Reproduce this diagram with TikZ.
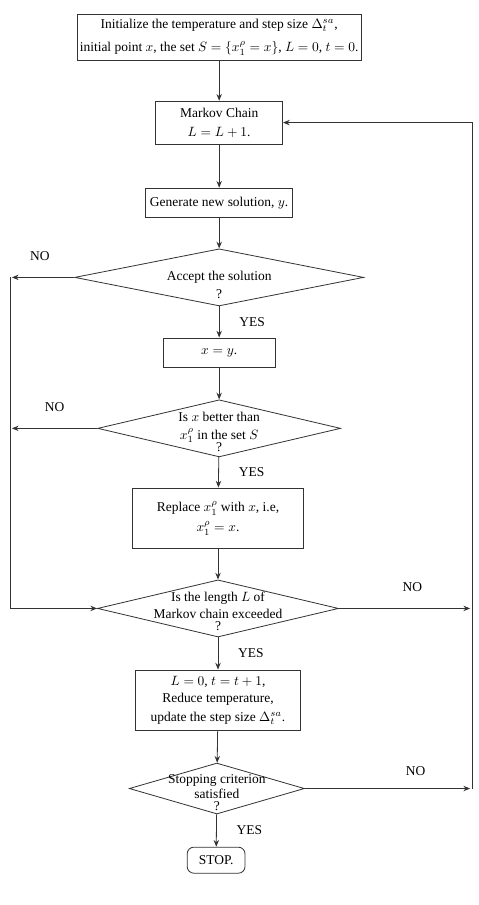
\documentclass[tikz,border=0pt]{standalone}
\usepackage{fontspec}
\setmainfont{Liberation Serif}
\usetikzlibrary{arrows.meta, positioning, shapes.geometric}

\begin{document}
\begin{tikzpicture}[
        stepbox/.style={rectangle, draw=black!80, line width=0.6pt, align=center,
            inner sep=2pt},
        decision/.style={diamond, draw=black!80, line width=0.6pt, inner sep=0pt,
            minimum height=1.49cm},
        qtext/.style={align=center, inner sep=0pt},
        stopbox/.style={rectangle, draw=black!80, line width=0.6pt,
            rounded corners=5pt, minimum width=1.51cm, minimum height=0.68cm},
        flow/.style={draw=black!80, line width=0.6pt,
            -{Stealth[length=5pt, width=4pt]}},
    ]
        \useasboundingbox (0,0) rectangle (12.48,-23.62);

        % Boxes
        \node[stepbox, minimum width=7.39cm, minimum height=1.2cm] (init) at (5.72,-0.97)
            {Initialize the temperature and step size $\Delta_t^{sa}$,\\[5pt]
             initial point $x$, the set $S=\{x_1^\rho=x\}$, $L=0$, $t=0$.};
        \node[stepbox, minimum width=3.31cm, minimum height=1.12cm] (markov) at (5.72,-3.2)
            {Markov Chain\\[2pt] $L=L+1$.};
        \node[stepbox, minimum width=3.84cm, minimum height=0.76cm] (gen) at (5.72,-5.29)
            {Generate new solution, $y$.};
        \node[stepbox, minimum width=2.92cm, minimum height=0.76cm] (xy) at (5.72,-9.2)
            {$x=y$.};
        \node[stepbox, minimum width=4.46cm, minimum height=1.59cm] (repl) at (5.69,-13.53)
            {Replace $x_1^\rho$ with $x$, i.e,\\[3pt] $x_1^\rho=x$.};
        \node[stepbox, minimum width=4.31cm, minimum height=1.59cm] (reset) at (5.69,-18.28)
            {$L=0$, $t=t+1$,\\[1pt] Reduce temperature,\\[2pt] update the step size $\Delta_t^{sa}$.};
        \node[stopbox] (stop) at (5.64,-22.45) {STOP.};

        % Decisions
        \node[decision, minimum width=7.54cm] (d1) at (5.72,-7.24) {};
        \node[decision, minimum width=6.34cm] (d2) at (5.72,-11.18) {};
        \node[decision, minimum width=6.29cm] (d3) at (5.69,-15.88) {};
        \node[decision, minimum width=4.57cm, minimum height=1.33cm] (d4) at (5.66,-20.58) {};

        \node[qtext, yshift=-0.2cm] (d1t) at (d1) {Accept the solution\\[1pt] ?};
        \node[qtext, yshift=-0.09cm] (d2t) at (d2)
            {Is $x$ better than\\[1pt] $x_1^\rho$ in the set $S$\\[-3pt] ?};
        \node[qtext, yshift=-0.08cm] (d3t) at (d3)
            {Is the length $L$ of\\[1pt] Markov chain exceeded\\[-3pt] ?};
        \node[qtext, yshift=-0.1cm] (d4t) at (d4)
            {Stopping criterion\\[-1pt] satisfied\\[-3pt] ?};

        % Loop corners
        \coordinate (lft1) at (0.31,-7.24);
        \coordinate (lft2) at (0.31,-11.18);
        \coordinate (lft3) at (0.26,-15.88);
        \coordinate (rgt3) at (12.27,-15.88);
        \coordinate (rgt4) at (12.27,-20.58);
        \coordinate (top) at (12.32,-3.2);
        \coordinate (bot) at (12.32,-20.58);

        % Main flow
        \draw[flow] (init) -- (markov);
        \draw[flow] (markov) -- (gen);
        \draw[flow] (gen) -- (d1);
        \draw[flow] (d1) -- node[right=0.4cm] {YES} (xy);
        \draw[flow] (xy) -- (d2);
        \draw[flow] (d2) -- node[right=0.4cm] {YES} (repl);
        \draw[flow] (repl) -- (d3);
        \draw[flow] (d3) -- node[right=0.4cm] {YES} (reset);
        \draw[flow] (reset) -- (d4);
        \draw[flow] (d4) -- node[right=0.4cm] {YES} (stop);

        % NO branches
        \draw[flow] (d1.west) -- node[above=0.3cm, pos=0.55] {NO} (lft1);
        \draw[flow] (d2.west) -- node[above=0.3cm, pos=0.5] {NO} (lft2);
        \draw[flow] (lft1 -| lft3) -- (lft3) -- (d3.west);
        \draw[flow] (d3.east) -- node[above=0.3cm, pos=0.56] {NO} (rgt3);
        \draw[flow] (d4.east) -- node[above=0.2cm, pos=0.67] {NO} (rgt4);
        \draw[flow] (bot) -- (top) -- (markov.east);
    \end{tikzpicture}
\end{document}
